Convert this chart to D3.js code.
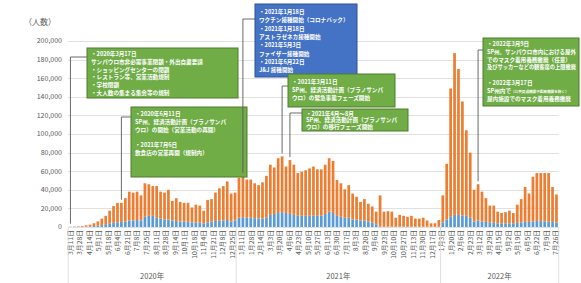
<!DOCTYPE html>
<html><head><meta charset="utf-8">
<script src="https://cdn.jsdelivr.net/npm/d3@7"></script>
<style>body{margin:0;background:#fff} svg{display:block}</style>
</head><body><svg id="c" width="581" height="283"></svg>
<script>
// ---- data ----
const firstWeek = "2020-03-11";
const lastWeek = "2022-07-27";
const blueValues = [100,200,300,400,500,700,1000,1500,2000,3000,4000,4500,5000,5500,6000,7000,7000,7500,7000,11000,
12000,12000,10000,9000,8000,8000,7000,6500,6000,6000,5500,5000,5000,4500,4000,5000,6000,6500,7000,7000,
7500,6000,7000,10000,10500,10000,10000,9500,9000,9000,10000,13000,14000,15000,16000,15000,14000,13000,12000,12000,
12000,12000,12500,12000,12500,14000,16500,15000,12000,11000,10000,10000,8000,8000,7000,7000,6000,5000,3000,500,
300,300,300,300,300,300,300,300,300,300,300,300,300,300,300,5000,8000,11000,13000,13000,
12500,12000,10000,6000,7000,6000,5500,5000,4500,4000,4000,4000,4000,4000,4500,5000,5500,5500,6000,6500,
6500,6000,6000,5500,5000];
const orangeValues = [200,300,500,800,1300,1800,3000,4500,7000,9000,13500,18000,21000,20500,25000,31000,30000,30500,27000,36000,
34000,32000,34000,29000,29000,32000,21000,24500,21000,20000,20500,16000,19000,18500,13500,24000,24000,30500,34500,37000,
41500,30000,30000,43000,44500,41000,41000,37500,36000,39000,45000,54000,50000,59000,60000,50000,58000,54000,46000,47500,
49000,51000,52500,50000,49500,53000,57500,56000,38500,36000,30500,35000,28000,24500,20000,23000,19000,17000,13500,33500,
16200,16700,16200,9700,12700,11700,10700,11700,8700,8700,9700,6700,3700,3700,7200,29000,60000,138000,174000,157000,
122500,92000,70000,34000,39000,32000,25500,18000,18500,12500,11000,12000,13500,11000,19500,25000,37500,30500,48000,51500,
51500,52000,52000,37500,30000];
const yTicks = [0,20000,40000,60000,80000,100000,120000,140000,160000,180000,200000];
const dateTicks = ["2020-03-11","2020-03-28","2020-04-14","2020-05-01","2020-05-18","2020-06-04","2020-06-21","2020-07-08","2020-07-25","2020-08-11","2020-08-28","2020-09-14","2020-10-01","2020-10-18","2020-11-04","2020-11-21","2020-12-08","2020-12-25",
"2021-01-11","2021-01-28","2021-02-14","2021-03-03","2021-03-20","2021-04-06","2021-04-23","2021-05-10","2021-05-27","2021-06-13","2021-06-30","2021-07-17","2021-08-03","2021-08-20","2021-09-06","2021-09-23","2021-10-10","2021-10-27","2021-11-13","2021-11-30","2021-12-17",
"2022-01-03","2022-01-20","2022-02-06","2022-02-23","2022-03-12","2022-03-29","2022-04-15","2022-05-02","2022-05-19","2022-06-05","2022-06-22","2022-07-09","2022-07-26"];
const yearLabels = ["2020年","2021年","2022年"];
const yUnit = "（人数）";

// each line: [main text, optional small-print text]
const annoTexts = [
 [["・2020年3月17日"],["サンパウロ市非必需事業閉鎖・外出自粛要請"],["・ショッピングセンターの閉鎖"],["・レストラン等、営業活動規制"],["・学校閉鎖"],["・大人数の集まる集会等の規制"]],
 [["・2020年6月11日"],["SP州、経済活動計画（プラノサンパ"],["ウロ）の開始（営業活動の再開）"],[""],["・2021年7月6日"],["飲食店の営業再開（規制内）"]],
 [["・2021年1月18日"],["ワクチン接種開始（コロナバック）"],["・2021年1月18日"],["アストラゼネカ接種開始"],["・2021年5月3日"],["ファイザー接種開始"],["・2021年6月22日"],["J&J 接種開始"]],
 [["・2021年3月11日"],["SP州、経済活動計画（プラノサンパ"],["ウロ）の緊急事態フェーズ開始"]],
 [["・2021年4月～8月"],["SP州、経済活動計画（プラノサンパ"],["ウロ）の移行フェーズ開始"]],
 [["・2022年3月9日"],["SP州、サンパウロ市内における屋外"],["でのマスク着用義務撤廃（任意）"],["及びサッカーなどの観客席の上限撤廃"],[""],["・2022年3月17日"],["SP州内で","（公共交通機関や医療機関を除く）"],["屋内施設でのマスク着用義務撤廃"]]
];
const annoAnchors = ["2020-03-11","2020-06-10","2021-01-13","2021-03-24","2021-04-07","2022-03-09"];

// ---- layout ----
const svg = d3.select("#c");
const parse = d3.timeParse("%Y-%m-%d");
const weeks = d3.timeDay.range(parse(firstWeek), d3.timeDay.offset(parse(lastWeek),1), 7);
const x = d3.scaleTime().domain([parse("2020-03-07"), parse("2022-07-31")]).range([68.2, 558.7]);
const y = d3.scaleLinear().domain([0,200000]).range([227,41]);
const FONT = "'Noto Sans CJK JP','Noto Sans',sans-serif";

// gridlines
svg.append("g").selectAll("line").data(yTicks).join("line")
 .attr("x1",68).attr("x2",559).attr("y1",d=>Math.round(y(d))+0.5).attr("y2",d=>Math.round(y(d))+0.5)
 .attr("stroke","#d9d9d9").attr("stroke-width",0.8);
svg.append("g").selectAll("text").data(yTicks).join("text")
 .attr("x",62).attr("y",d=>y(d)).attr("dy","0.35em").attr("text-anchor","end")
 .attr("font-family",FONT).attr("font-size",7).attr("fill","#595959")
 .text(d=>d3.format(",")(d));
svg.append("text").attr("x",24).attr("y",25).attr("font-family",FONT).attr("font-size",8).attr("fill","#595959").text(yUnit);

// stacked bars
const rows = weeks.map((w,i)=>({date:w, blue:blueValues[i], orange:orangeValues[i]}));
const stack = d3.stack().keys(["blue","orange"])(rows);
const colors = {blue:"#5B9BD5", orange:"#ED7D31"};
const bw = 2.7;
svg.append("g").selectAll("g").data(stack).join("g").attr("fill",s=>colors[s.key])
 .selectAll("rect").data(s=>s).join("rect")
 .attr("x",d=>x(d.data.date)-bw/2).attr("width",bw)
 .attr("y",d=>y(d[1])).attr("height",d=>Math.max(0,y(d[0])-y(d[1])));

// x axis labels
const fmt = d3.timeFormat("%-m月%-d日");
svg.append("g").selectAll("text").data(dateTicks.map(parse)).join("text")
 .attr("transform",d=>`translate(${x(d)+2.4},230) rotate(-90)`)
 .attr("text-anchor","end").attr("font-family",FONT).attr("font-size",6.8).attr("fill","#595959")
 .text(fmt);
// year separators
const bounds = [x.range()[0], x(parse("2021-01-01")), x(parse("2022-01-01")), x.range()[1]];
svg.append("g").selectAll("line").data(bounds).join("line")
 .attr("x1",d=>d).attr("x2",d=>d).attr("y1",227).attr("y2",283).attr("stroke","#d9d9d9").attr("stroke-width",0.8);
svg.append("g").selectAll("text").data(yearLabels).join("text")
 .attr("x",(d,i)=>(bounds[i]+bounds[i+1])/2).attr("y",279).attr("text-anchor","middle")
 .attr("font-family",FONT).attr("font-size",7.5).attr("fill","#595959").text(d=>d);

// annotations
const boxes = [
 {x:87,y:48,w:151,h:50,ly:57,fill:"#70AD47",stroke:"#4E7D2F",lh:7.8,t0:8},
 {x:131,y:107,w:116,h:70,ly:117,fill:"#70AD47",stroke:"#4E7D2F",lh:7.8,t0:9},
 {x:255,y:4,w:102,h:73,ly:19,fill:"#4472C4",stroke:"#2F528F",lh:8.3,t0:10},
 {x:288,y:74,w:107,h:33,ly:86,fill:"#70AD47",stroke:"#4E7D2F",lh:7.8,t0:10},
 {x:302,y:109,w:106,h:22,ly:113,fill:"#70AD47",stroke:"#4E7D2F",lh:6.8,t0:6.5},
 {x:483,y:38,w:96,h:68,ly:50,fill:"#70AD47",stroke:"#4E7D2F",lh:7.8,t0:8}
];
const totalAt = ds => { const i = weeks.findIndex(w=>+w===+parse(ds)); return blueValues[i]+orangeValues[i]; };
boxes.forEach((b,k)=>{
 const ax = x(parse(annoAnchors[k]));
 const ay = y(totalAt(annoAnchors[k])) - 3;
 svg.append("path").attr("d",`M${b.x},${b.ly}H${ax}V${ay}`).attr("fill","none").attr("stroke","#595959").attr("stroke-width",0.9);
 svg.append("rect").attr("x",b.x).attr("y",b.y).attr("width",b.w).attr("height",b.h)
  .attr("fill",b.fill).attr("stroke",b.stroke).attr("stroke-width",1);
 const maxW = b.w - 7;
 annoTexts[k].forEach((parts,i)=>{
  const t = svg.append("text").attr("x",b.x+4).attr("y",b.y+b.t0+i*b.lh)
   .attr("font-family",FONT).attr("font-size",5.6).attr("font-weight","bold").attr("fill","#fff");
  t.append("tspan").text(parts[0]);
  if (parts[1]) t.append("tspan").attr("font-size",3.6).text(parts[1]);
  const w = t.node().getComputedTextLength();
  if (w > maxW) t.attr("textLength",maxW).attr("lengthAdjust","spacingAndGlyphs");
 });
});
</script></body></html>
